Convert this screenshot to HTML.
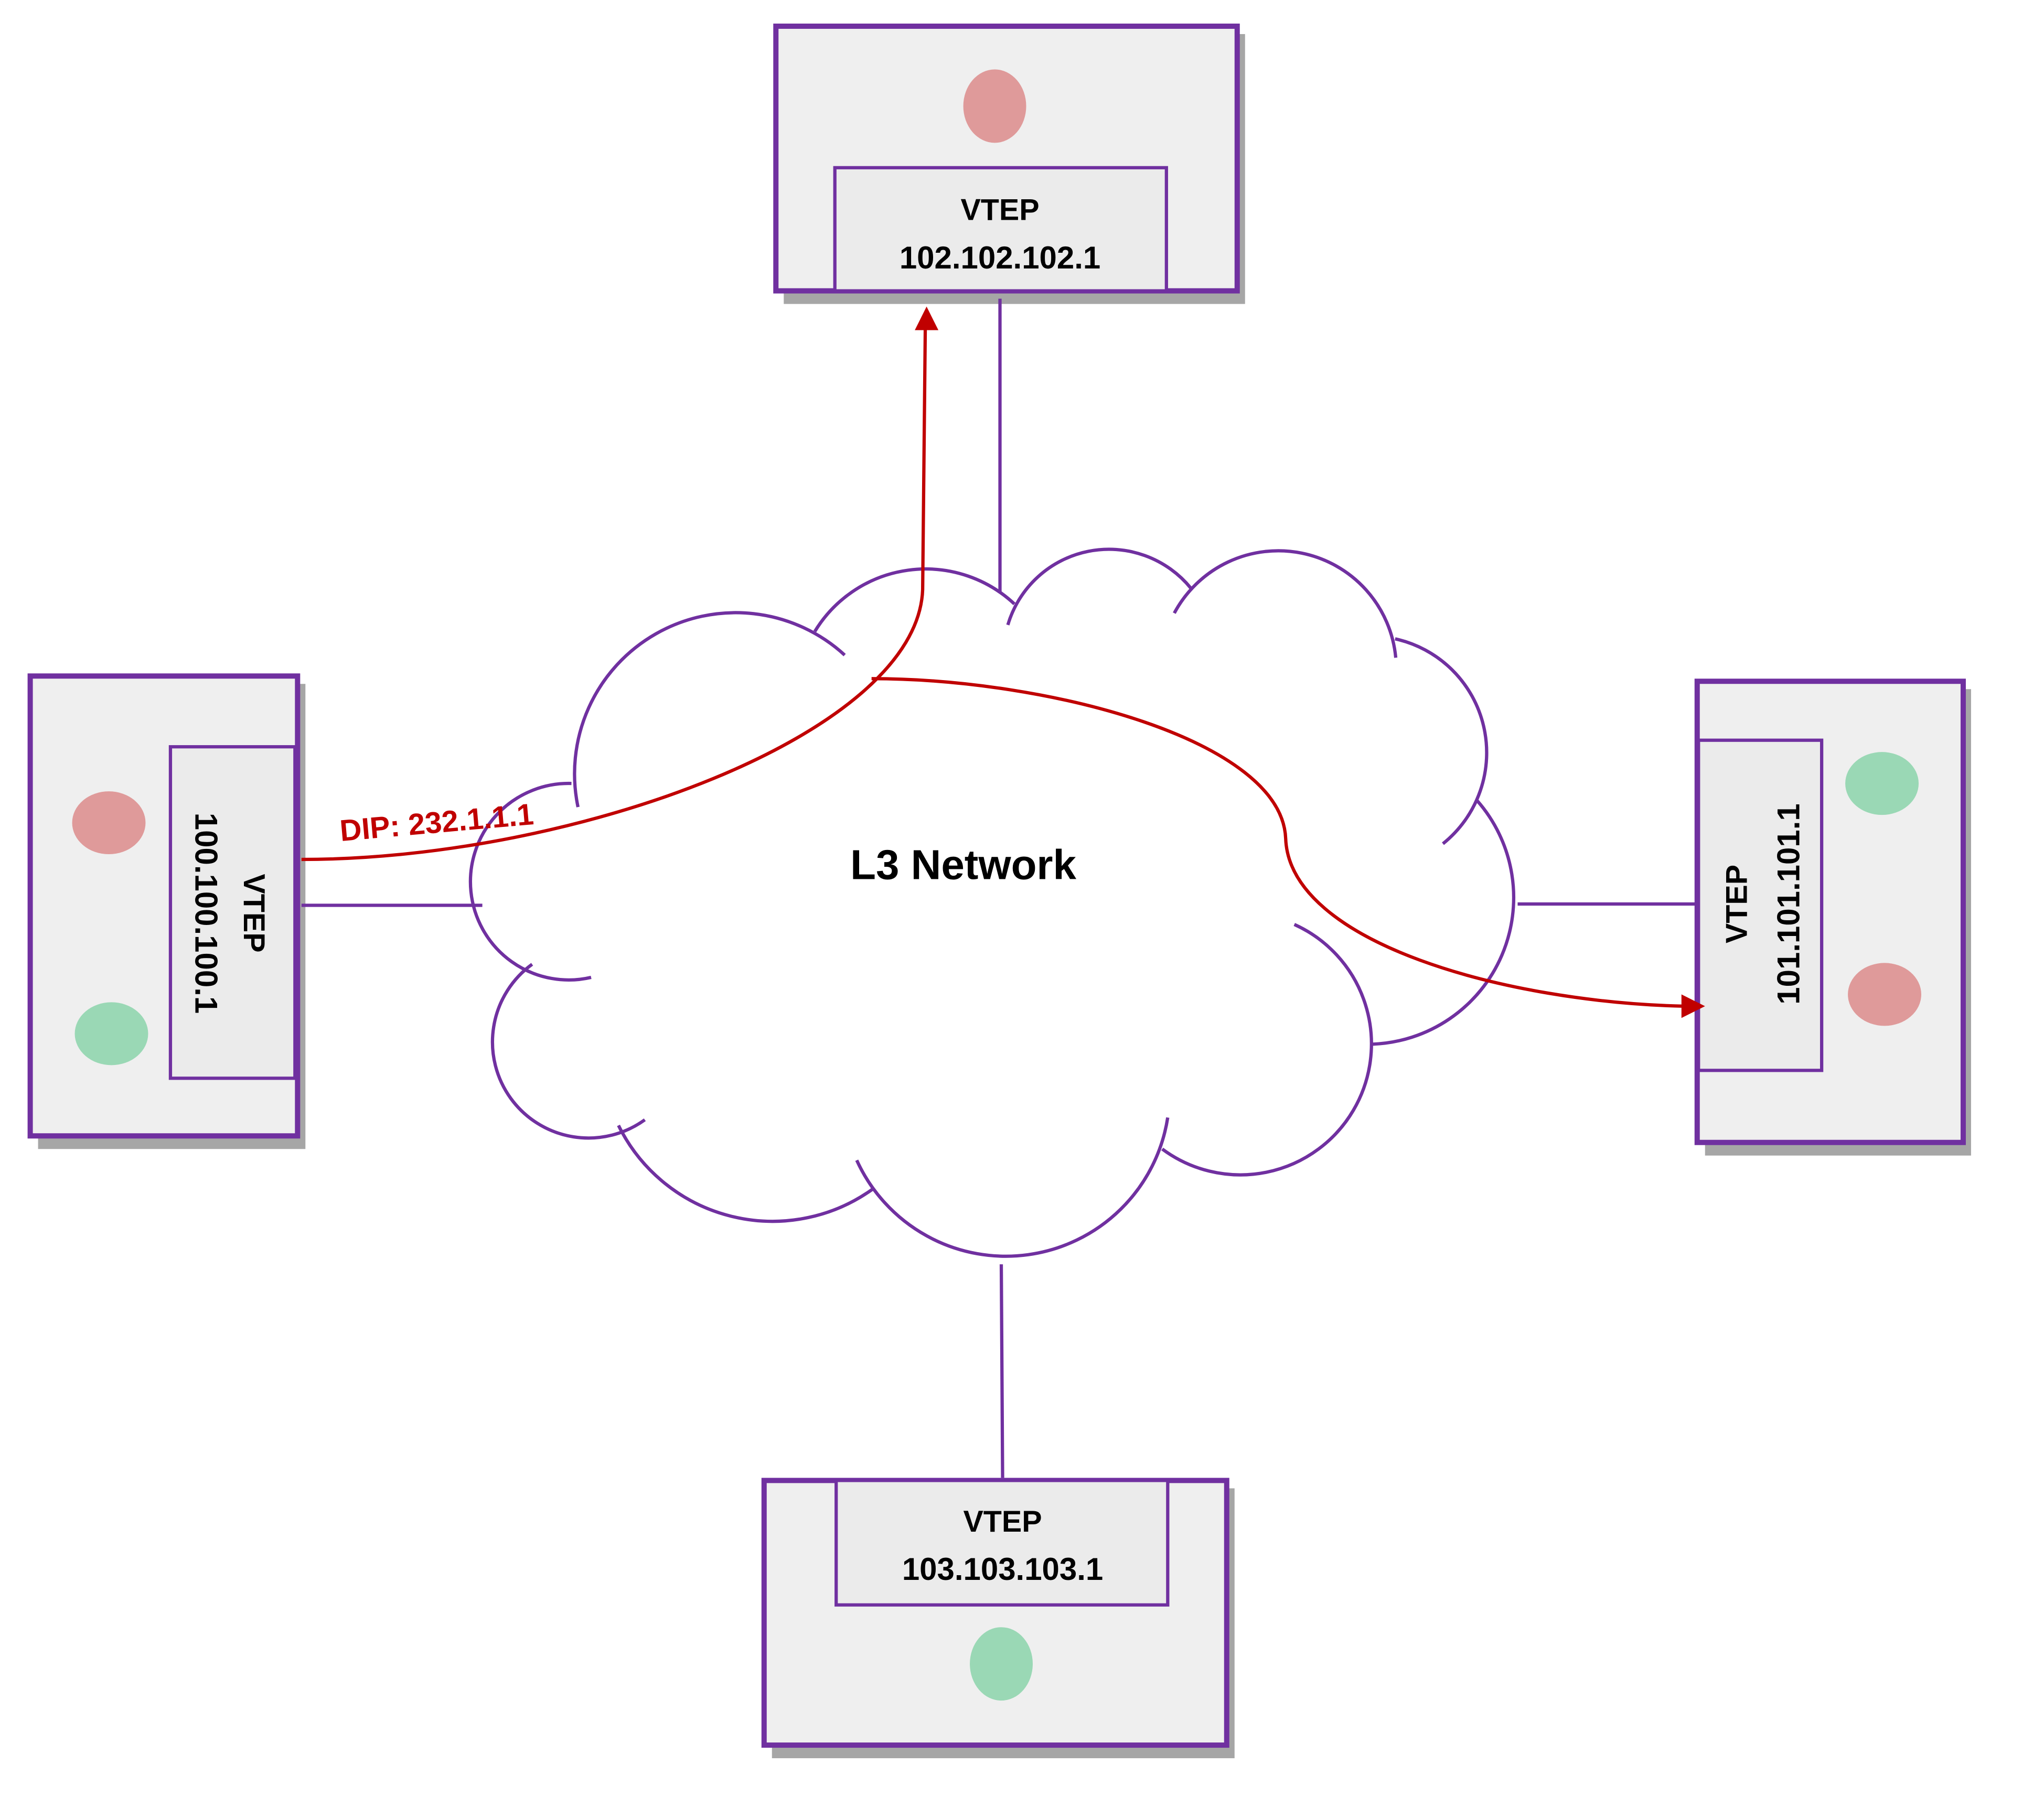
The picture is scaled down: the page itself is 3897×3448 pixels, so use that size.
<!DOCTYPE html>
<html><head><meta charset="utf-8"><style>
html,body{margin:0;padding:0;background:#fff;}
svg{display:block;}
text{font-family:"Liberation Sans",sans-serif;font-weight:bold;}
</style></head><body>
<svg width="3897" height="3448" viewBox="0 0 1559.6 1380" xmlns="http://www.w3.org/2000/svg">
<rect width="1560" height="1380" fill="#fff"/>
<!-- top box -->
<rect x="598" y="26" width="352" height="206" fill="#a6a6a6"/>
<rect x="592" y="20" width="352" height="202" fill="#efefef" stroke="#7030a0" stroke-width="4"/>
<rect x="637" y="128" width="253" height="94" fill="#ebebeb" stroke="#7030a0" stroke-width="2.5"/>
<ellipse cx="759" cy="81" rx="24" ry="28" fill="#df9a9a"/>
<text x="763" y="168" font-size="23" text-anchor="middle">VTEP</text>
<text x="763" y="205" font-size="24" text-anchor="middle">102.102.102.1</text>
<line x1="763" y1="228" x2="763" y2="452" stroke="#7030a0" stroke-width="2.5"/>
<!-- left box -->
<rect x="29" y="522" width="204" height="355" fill="#a6a6a6"/>
<rect x="23" y="516" width="204" height="351" fill="#efefef" stroke="#7030a0" stroke-width="4"/>
<rect x="130" y="570" width="95" height="253" fill="#ebebeb" stroke="#7030a0" stroke-width="2.5"/>
<ellipse cx="83" cy="628" rx="28" ry="24" fill="#df9a9a"/>
<ellipse cx="85" cy="789" rx="28" ry="24" fill="#9ad8b5"/>
<text transform="translate(186,697) rotate(90)" font-size="23" text-anchor="middle">VTEP</text>
<text transform="translate(149,697) rotate(90)" font-size="24" text-anchor="middle">100.100.100.1</text>
<line x1="230" y1="691" x2="368" y2="691" stroke="#7030a0" stroke-width="2.5"/>
<!-- right box -->
<rect x="1301" y="526" width="203" height="356" fill="#a6a6a6"/>
<rect x="1295" y="520" width="203" height="352" fill="#efefef" stroke="#7030a0" stroke-width="4"/>
<rect x="1296" y="565" width="94" height="252" fill="#ebebeb" stroke="#7030a0" stroke-width="2.5"/>
<ellipse cx="1436" cy="598" rx="28" ry="24" fill="#9ad8b5"/>
<ellipse cx="1438" cy="759" rx="28" ry="24" fill="#df9a9a"/>
<text transform="translate(1333,690) rotate(-90)" font-size="23" text-anchor="middle">VTEP</text>
<text transform="translate(1373,690) rotate(-90)" font-size="24" text-anchor="middle">101.101.101.1</text>
<line x1="1158" y1="690" x2="1295" y2="690" stroke="#7030a0" stroke-width="2.5"/>
<!-- bottom box -->
<rect x="589" y="1136" width="353" height="206" fill="#a6a6a6"/>
<rect x="583" y="1130" width="353" height="202" fill="#efefef" stroke="#7030a0" stroke-width="4"/>
<rect x="638" y="1130" width="253" height="95" fill="#ebebeb" stroke="#7030a0" stroke-width="2.5"/>
<ellipse cx="764" cy="1270" rx="24" ry="28" fill="#9ad8b5"/>
<text x="765" y="1169" font-size="23" text-anchor="middle">VTEP</text>
<text x="765" y="1206" font-size="24" text-anchor="middle">103.103.103.1</text>
<line x1="764" y1="965" x2="765" y2="1128" stroke="#7030a0" stroke-width="2.5"/>
<!-- cloud -->
<g fill="none" stroke="#7030a0" stroke-width="2.5">
<path d="M441,616 A123,123 0 0 1 644.5,500"/>
<path d="M621.7,482 A99,99 0 0 1 774,461"/>
<path d="M769,477 A80.5,80.5 0 0 1 908.7,449"/>
<path d="M896,468 A90,90 0 0 1 1065,502"/>
<path d="M1064.5,487.6 A89,89 0 0 1 1101,644"/>
<path d="M1127,611 A112,112 0 0 1 1047,797"/>
<path d="M987.6,705.6 A100,100 0 1 1 886.8,877"/>
<path d="M891,853 A125,125 0 0 1 653.7,885.6"/>
<path d="M666,907.5 A131,131 0 0 1 471.9,859"/>
<path d="M406,736 A72,72 0 0 0 492,854.7"/>
<path d="M451,746 A75,75 0 1 1 436,598"/>
</g>
<text x="735" y="671" font-size="32" text-anchor="middle">L3 Network</text>
<!-- red paths -->
<g fill="none" stroke="#c00000" stroke-width="2.5">
<path d="M230,656 C440,656 700,560 704,450 L706,250"/>
<path d="M665,518 C800,518 978,565 981,640 C984,720 1150,765 1285,768"/>
</g>
<polygon points="707,234 698,252 716,252" fill="#c00000"/>
<polygon points="1301,768 1283,759 1283,777" fill="#c00000"/>
<text transform="translate(260,642) rotate(-5)" font-size="23" fill="#c00000">DIP: 232.1.1.1</text>
</svg>
</body></html>
